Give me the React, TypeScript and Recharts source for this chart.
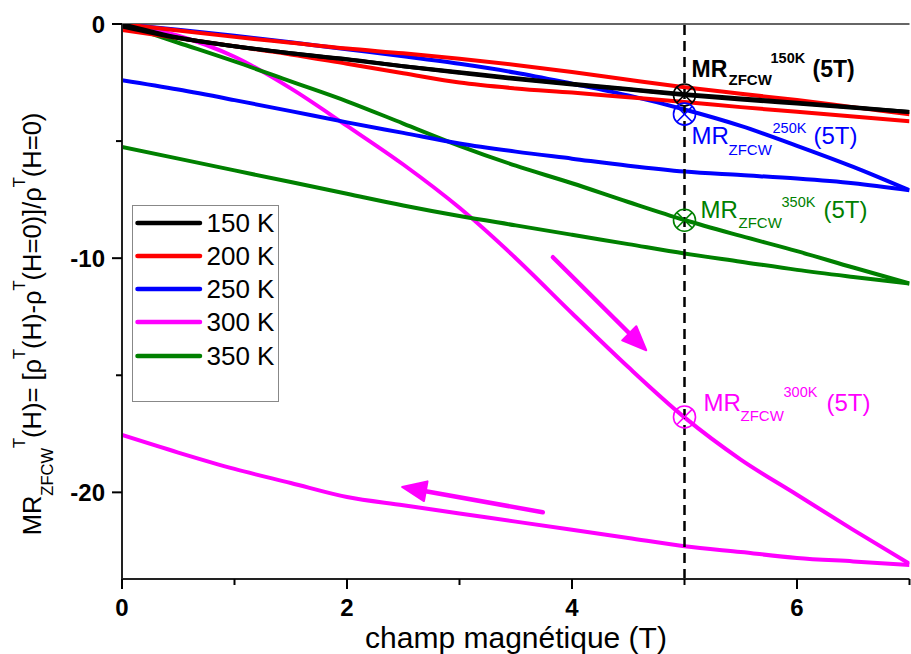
import React from "react";
import { LineChart, Line, XAxis, YAxis, ReferenceLine, ReferenceDot, Legend } from "recharts";

// champ magnétique (T), common grid for every branch
const fieldT = [0, 0.5, 1, 1.5, 2, 2.5, 3, 3.5, 4, 4.5, 5, 5.5, 6, 6.5, 7];

// MR (%), rising branch (0 -> 7 T) and return branch (listed 0 -> 7 T)
const mr150Up = [0, -0.58, -0.95, -1.25, -1.5, -1.8, -2.08, -2.35, -2.58, -2.8, -3.03, -3.22, -3.4, -3.58, -3.76];
const mr150Down = [-0.1, -0.6, -0.95, -1.25, -1.52, -1.8, -2.06, -2.32, -2.55, -2.78, -3.0, -3.18, -3.36, -3.55, -3.76];
const mr200Up = [0, -0.28, -0.55, -0.8, -1.05, -1.25, -1.48, -1.75, -2.05, -2.38, -2.7, -2.98, -3.25, -3.55, -3.85];
const mr200Down = [-0.25, -0.6, -0.95, -1.3, -1.7, -2.1, -2.5, -2.75, -2.93, -3.13, -3.33, -3.55, -3.75, -3.95, -4.15];
const mr250Up = [0, -0.25, -0.5, -0.78, -1.08, -1.38, -1.7, -2.08, -2.55, -3.05, -3.65, -4.35, -5.2, -6.1, -7.1];
const mr250Down = [-2.4, -2.8, -3.25, -3.72, -4.2, -4.65, -5.1, -5.45, -5.75, -6.05, -6.3, -6.45, -6.6, -6.8, -7.1];
const mr300Up = [0, -0.5, -1.4, -2.75, -4.35, -6.0, -7.85, -10.0, -12.35, -14.65, -16.8, -18.6, -20.1, -21.6, -23.05];
const mr300Down = [-17.55, -18.3, -19.0, -19.6, -20.2, -20.55, -20.9, -21.25, -21.6, -21.95, -22.3, -22.55, -22.8, -22.95, -23.1];
const mr350Up = [0, -0.8, -1.6, -2.45, -3.3, -4.25, -5.2, -6.05, -6.8, -7.6, -8.37, -9.05, -9.7, -10.4, -11.08];
const mr350Down = [-5.25, -5.75, -6.25, -6.75, -7.25, -7.75, -8.2, -8.6, -9.0, -9.4, -9.8, -10.15, -10.5, -10.8, -11.08];

const temps = ["150 K", "200 K", "250 K", "300 K", "350 K"];
const colors = ["#000000", "#ff0000", "#0000ff", "#ff00ff", "#008000"];

// MR_ZFCW(5T) markers
const markerField = 5;
const markerTemps = ["150K", "250K", "350K", "300K"];
const markerMR = [-3.03, -3.85, -8.38, -16.78];
const markerColors = ["#000000", "#0000ff", "#008000", "#ff00ff"];

// arrows on the 300 K loop: [fromH, fromMR, toH, toMR]
const arrowUp = [3.83, -9.96, 4.66, -13.93];
const arrowDown = [3.74, -20.85, 2.49, -19.77];

const xTicks = [0, 1, 2, 3, 4, 5, 6, 7];
const yTicks = [0, -5, -10, -15, -20];

const FONT = "Arial, 'Liberation Sans', sans-serif";

const branch = (vals: number[]) => fieldT.map((h, i) => ({ h, mr: vals[i] }));

const branches = [
  [branch(mr150Up), branch(mr150Down)],
  [branch(mr200Up), branch(mr200Down)],
  [branch(mr250Up), branch(mr250Down)],
  [branch(mr300Up), branch(mr300Down)],
  [branch(mr350Up), branch(mr350Down)],
];
const drawOrder = [3, 4, 2, 1, 0];

// label placement relative to marker centre: MR, sub, sup, (5T)
const labelOffsets = [
  { bold: true, big: 23, mr: [7, -18], sub: [44, -10], sup: [86, -32], t: [128, -18] },
  { bold: false, big: 24, mr: [7, 30], sub: [44, 41], sup: [88, 19], t: [129, 30] },
  { bold: false, big: 24, mr: [16, -2], sub: [54, 8], sup: [97, -13], t: [139, -2] },
  { bold: false, big: 24, mr: [19, -6], sub: [56, 4], sup: [99, -20], t: [142, -6] },
];

const XTick = (props: any) => {
  const { x, y, payload } = props;
  const major = payload.value % 2 === 0;
  return (
    <g>
      <line x1={x} x2={x} y1={y} y2={y + (major ? 10 : 6)} stroke="#000" strokeWidth={2} />
      {major && (
        <text x={x} y={y + 37} textAnchor="middle" fontFamily={FONT} fontWeight="bold" fontSize={24} fill="#000">
          {payload.value}
        </text>
      )}
    </g>
  );
};

const YTick = (props: any) => {
  const { x, y, payload } = props;
  const major = payload.value % 10 === 0;
  return (
    <g>
      <line x1={x - (major ? 10 : 6)} x2={x} y1={y} y2={y} stroke="#000" strokeWidth={2} />
      {major && (
        <text x={x - 17} y={y} dy="0.36em" textAnchor="end" fontFamily={FONT} fontWeight="bold" fontSize={24} fill="#000">
          {payload.value}
        </text>
      )}
    </g>
  );
};

const YLabel = () => (
  <text transform="rotate(-90, 41, 324)" x={41} y={324} textAnchor="middle" fontFamily={FONT} fontSize={25.5} fill="#000">
    <tspan>MR</tspan>
    <tspan fontSize={16.5} dy={12}>ZFCW</tspan>
    <tspan fontSize={16.5} dy={-28}>T</tspan>
    <tspan dy={16}>(H)= [ρ</tspan>
    <tspan fontSize={16.5} dy={-16}>T</tspan>
    <tspan dy={16}>(H)-ρ</tspan>
    <tspan fontSize={16.5} dy={-16}>T</tspan>
    <tspan dy={16}>(H=0)]/ρ</tspan>
    <tspan fontSize={16.5} dy={-16}>T</tspan>
    <tspan dy={16}>(H=0)</tspan>
  </text>
);

const XLabel = () => (
  <text x={516} y={648} textAnchor="middle" fontFamily={FONT} fontSize={30} fill="#000">
    champ magnétique (T)
  </text>
);

const makeMarker = (i: number) => (props: any) => {
  const { cx, cy } = props;
  const c = markerColors[i];
  const o = labelOffsets[i];
  const d = 7.8;
  const fw = o.bold ? "bold" : "normal";
  return (
    <g>
      <circle cx={cx} cy={cy} r={11} fill="none" stroke={c} strokeWidth={1.6} />
      <line x1={cx - d} y1={cy - d} x2={cx + d} y2={cy + d} stroke={c} strokeWidth={1.6} />
      <line x1={cx - d} y1={cy + d} x2={cx + d} y2={cy - d} stroke={c} strokeWidth={1.6} />
      <g fontFamily={FONT} fill={c} fontWeight={fw}>
        <text x={cx + o.mr[0]} y={cy + o.mr[1]} fontSize={o.big}>MR</text>
        <text x={cx + o.sub[0]} y={cy + o.sub[1]} fontSize={15}>ZFCW</text>
        <text x={cx + o.sup[0]} y={cy + o.sup[1]} fontSize={14.5}>{markerTemps[i]}</text>
        <text x={cx + o.t[0]} y={cy + o.t[1]} fontSize={o.big}>(5T)</text>
      </g>
    </g>
  );
};

const Arrow = (props: any) => {
  const { x1, y1, x2, y2 } = props;
  const a = Math.atan2(y2 - y1, x2 - x1);
  const L = 24;
  const W = 10;
  const bx = x2 - L * Math.cos(a);
  const by = y2 - L * Math.sin(a);
  const px = -Math.sin(a) * W;
  const py = Math.cos(a) * W;
  return (
    <g>
      <line x1={x1} y1={y1} x2={bx} y2={by} stroke="#ff00ff" strokeWidth={4.5} strokeLinecap="round" />
      <polygon points={`${x2},${y2} ${bx + px},${by + py} ${bx - px},${by - py}`} fill="#ff00ff" stroke="#ff00ff" strokeLinejoin="round" strokeWidth={2} />
    </g>
  );
};

const LegendBox = () => (
  <div
    style={{
      width: 147,
      height: 197,
      border: "1px solid #888",
      boxSizing: "border-box",
      background: "#fff",
      position: "relative",
      fontFamily: FONT,
    }}
  >
    {temps.map((t, i) => (
      <div
        key={t}
        style={{ position: "absolute", left: 0, top: 0.7 + i * 33.2, height: 32, display: "flex", alignItems: "center" }}
      >
        <svg width={72} height={32}>
          <line x1={4.5} x2={67} y1={16} y2={16} stroke={colors[i]} strokeWidth={4.5} strokeLinecap="round" />
        </svg>
        <span style={{ fontSize: 26, marginLeft: 2, color: "#000", lineHeight: "32px" }}>{t}</span>
      </div>
    ))}
  </div>
);

export default function App() {
  return (
    <div style={{ position: "absolute", left: 0, top: 0, background: "#fff" }}>
      <LineChart width={911} height={654} margin={{ top: 24, right: 1.5, left: 0, bottom: 0 }}>
        <XAxis
          type="number"
          dataKey="h"
          domain={[0, 7]}
          ticks={xTicks}
          interval={0}
          height={75}
          tickSize={0}
          tickMargin={0}
          tickLine={false}
          tick={<XTick />}
          axisLine={{ stroke: "#222", strokeWidth: 2 }}
          label={<XLabel />}
          allowDataOverflow
        />
        <YAxis
          type="number"
          dataKey="mr"
          domain={[-23.7, 0]}
          ticks={yTicks}
          interval={0}
          width={122}
          tickSize={0}
          tickMargin={0}
          tickLine={false}
          tick={<YTick />}
          axisLine={{ stroke: "#222", strokeWidth: 2 }}
          label={<YLabel />}
          allowDataOverflow
        />
        <ReferenceLine y={0} stroke="#333" strokeWidth={1.5} />
        {drawOrder.map((i) =>
          branches[i].map((pts, j) => (
            <Line
              key={`${temps[i]}-${j}`}
              data={pts}
              dataKey="mr"
              name={temps[i]}
              type="monotone"
              stroke={colors[i]}
              strokeWidth={4}
              dot={false}
              isAnimationActive={false}
            />
          ))
        )}
        <ReferenceLine x={markerField} stroke="#000" strokeWidth={2.5} strokeDasharray="10 6" />
        <ReferenceLine
          segment={[
            { x: arrowUp[0], y: arrowUp[1] },
            { x: arrowUp[2], y: arrowUp[3] },
          ]}
          shape={Arrow}
        />
        <ReferenceLine
          segment={[
            { x: arrowDown[0], y: arrowDown[1] },
            { x: arrowDown[2], y: arrowDown[3] },
          ]}
          shape={Arrow}
        />
        {markerMR.map((v, i) => (
          <ReferenceDot key={markerTemps[i]} x={markerField} y={v} r={11} shape={makeMarker(i)} />
        ))}
        <Legend
          layout="vertical"
          align="center"
          verticalAlign="middle"
          wrapperStyle={{ left: 131.5, top: 205 }}
          content={<LegendBox />}
        />
      </LineChart>
    </div>
  );
}
